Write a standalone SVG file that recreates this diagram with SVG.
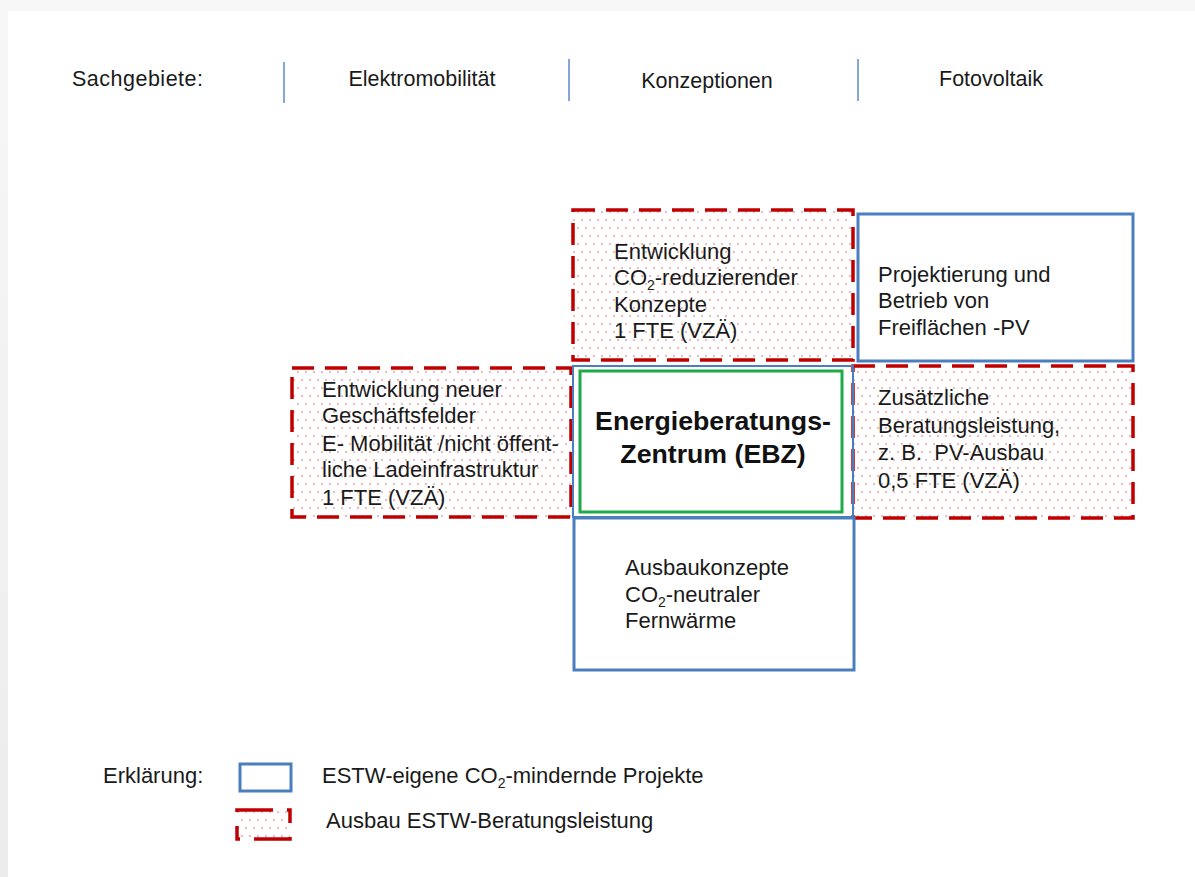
<svg xmlns="http://www.w3.org/2000/svg" width="1195" height="877" viewBox="0 0 1195 877">
<defs>
<pattern id="dots" width="8" height="16" patternUnits="userSpaceOnUse">
<rect width="8" height="16" fill="#ffffff"/>
<circle cx="2" cy="4" r="0.8" fill="#e06060"/>
<circle cx="6" cy="12" r="0.8" fill="#e06060"/>
</pattern>
<linearGradient id="topShade" x1="0" y1="0" x2="0" y2="1">
<stop offset="0" stop-color="#f7f7f7"/>
<stop offset="1" stop-color="#ececec"/>
</linearGradient>
</defs>
<style>
.t{font-family:"Liberation Sans",Arial,sans-serif;font-size:22px;fill:#1a1a1a}
.h{font-family:"Liberation Sans",Arial,sans-serif;font-size:21.5px;fill:#1a1a1a}
.b{font-family:"Liberation Sans",Arial,sans-serif;font-size:26.7px;font-weight:bold;fill:#111;text-anchor:middle}
.sub{font-size:14px}
.red{fill:url(#dots);stroke:#c00000;stroke-width:3.5;stroke-dasharray:22 11}
.blue{fill:#fff;stroke:#4a7ebf;stroke-width:3}
.green{fill:#fff;stroke:#1faa4a;stroke-width:3}
.sep{stroke:#5b8ccc;stroke-width:1.5}
</style>
<rect width="1195" height="877" fill="url(#topShade)"/>
<rect x="8" y="11" width="1187" height="866" fill="#ffffff"/>

<g id="header">
<text class="h" x="72" y="86" textLength="131">Sachgebiete:</text>
<line class="sep" x1="284" y1="62" x2="284" y2="103"/>
<text class="h" x="422" y="86" text-anchor="middle">Elektromobilität</text>
<line class="sep" x1="569" y1="59" x2="569" y2="101"/>
<text class="h" x="707" y="88" text-anchor="middle">Konzeptionen</text>
<line class="sep" x1="858" y1="59" x2="858" y2="101"/>
<text class="h" x="991" y="86" text-anchor="middle">Fotovoltaik</text>
</g>

<g id="connectors"></g>

<g id="node-konzepte">
<rect class="red" x="573" y="210" width="280" height="150"/>
<text class="t" x="614" y="259">Entwicklung</text>
<text class="t" x="614" y="285">CO<tspan class="sub" dy="5">2</tspan><tspan dy="-5">-reduzierender</tspan></text>
<text class="t" x="614" y="312">Konzepte</text>
<text class="t" x="614" y="338">1 FTE (VZÄ)</text>
</g>

<g id="node-pv">
<rect class="blue" x="858" y="214" width="275" height="147"/>
<text class="t" x="878" y="282">Projektierung und</text>
<text class="t" x="878" y="308">Betrieb von</text>
<text class="t" x="878" y="335">Freiflächen -PV</text>
</g>

<g id="node-emob">
<rect class="red" x="292" y="368" width="279" height="149"/>
<text class="t" x="322" y="397">Entwicklung neuer</text>
<text class="t" x="322" y="423">Geschäftsfelder</text>
<text class="t" x="322" y="451">E- Mobilität /nicht öffent-</text>
<text class="t" x="322" y="477">liche Ladeinfrastruktur</text>
<text class="t" x="322" y="505">1 FTE (VZÄ)</text>
</g>

<g id="node-beratung">
<rect class="red" x="853" y="366" width="280" height="152"/>
<text class="t" x="878" y="405">Zusätzliche</text>
<text class="t" x="878" y="433">Beratungsleistung,</text>
<text class="t" x="878" y="460" xml:space="preserve">z. B.  PV-Ausbau</text>
<text class="t" x="878" y="488">0,5 FTE (VZÄ)</text>
</g>

<g id="node-ebz">
<rect fill="none" stroke="#4a7ebf" stroke-width="2" x="573" y="366" width="280" height="151"/>
<rect class="green" x="580" y="371" width="262" height="141"/>
<text class="b" x="713" y="430">Energieberatungs-</text>
<text class="b" x="713" y="463">Zentrum (EBZ)</text>
</g>

<g id="node-fernwaerme">
<rect class="blue" x="574" y="518" width="280" height="152"/>
<text class="t" x="625" y="575">Ausbaukonzepte</text>
<text class="t" x="625" y="602">CO<tspan class="sub" dy="5">2</tspan><tspan dy="-5">-neutraler</tspan></text>
<text class="t" x="625" y="628">Fernwärme</text>
</g>

<g id="legend">
<text class="t" x="103" y="783">Erklärung:</text>
<rect class="blue" x="240" y="764" width="51" height="27"/>
<text class="t" x="322" y="783">ESTW-eigene CO<tspan class="sub" dy="5">2</tspan><tspan dy="-5">-mindernde Projekte</tspan></text>
<rect x="237" y="810" width="53" height="29" fill="url(#dots)" stroke="#c00000" stroke-width="3.5" stroke-dasharray="36 14 16 14 38 14 16 14"/>
<text class="t" x="326" y="828">Ausbau ESTW-Beratungsleistung</text>
</g>
</svg>
